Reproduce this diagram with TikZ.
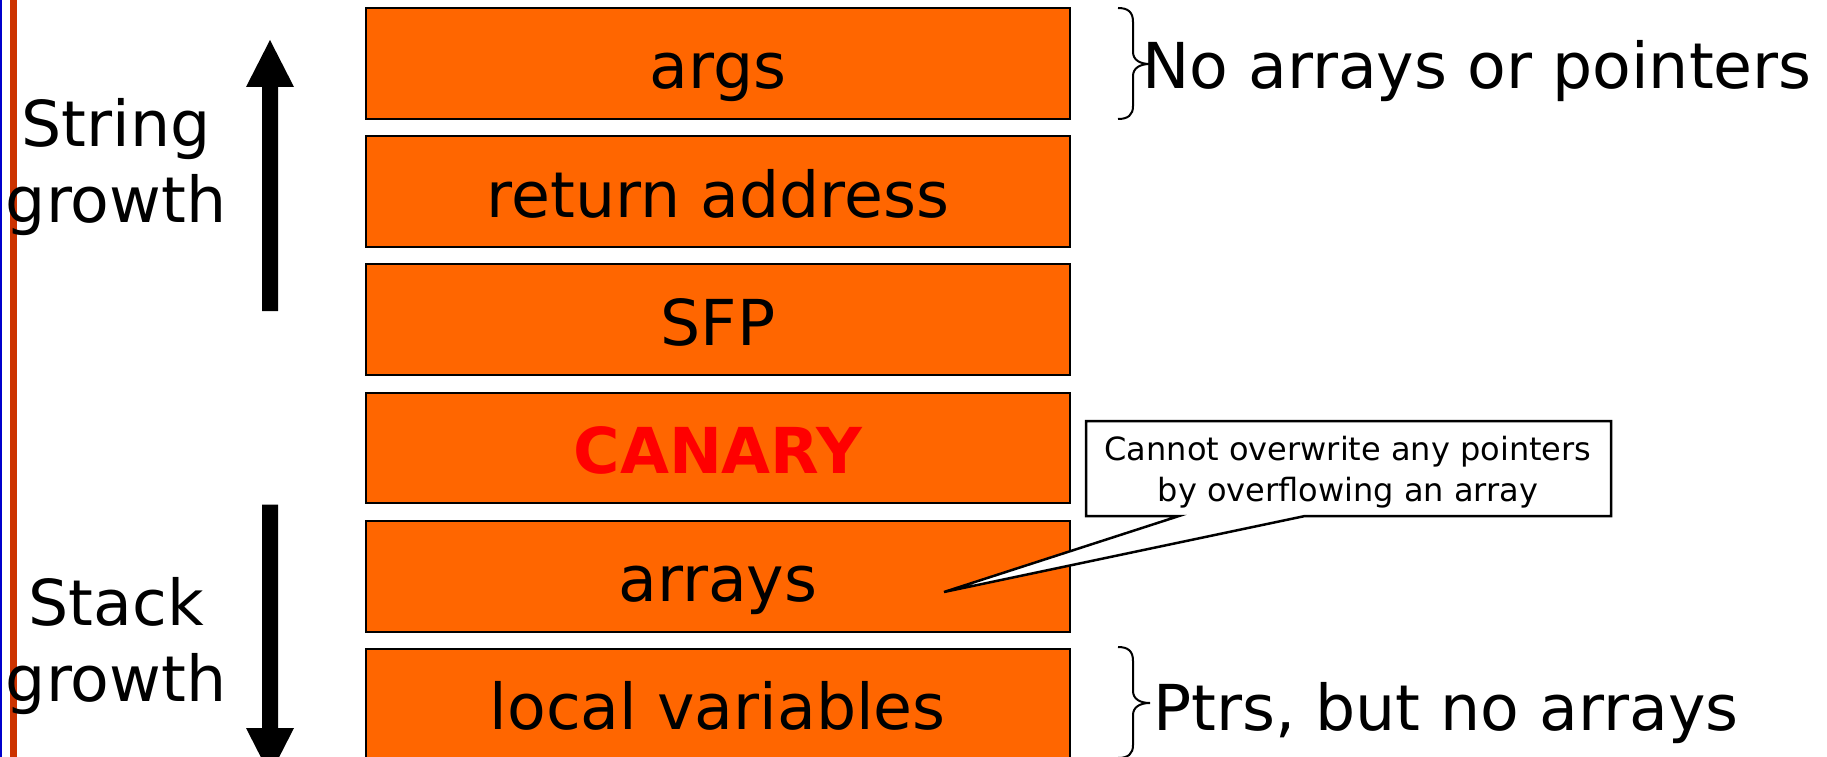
\documentclass[tikz,border=0pt]{standalone}
\usepackage{fontspec}
\setmainfont{DejaVu Sans}
\definecolor{boxorange}{HTML}{FF6600}
\definecolor{canaryred}{HTML}{FF0000}
\definecolor{edgered}{HTML}{CC3300}
\definecolor{edgeblue}{HTML}{0000CC}
\begin{document}
\begin{tikzpicture}[x=1pt,y=-1pt,
  stackbox/.style={draw=black, line width=2pt, fill=boxorange, minimum width=703.6pt,
    minimum height=110.7pt, inner sep=0pt, text height=51pt, text depth=0pt,
    font=\fontsize{63.3}{75}\selectfont},
  biglabel/.style={inner sep=0pt, font=\fontsize{63.3}{75}\selectfont},
  bracepath/.style={draw=black, line width=2pt},
  growtharrow/.style={fill=black},
  calloutshape/.style={draw=black, fill=white, line width=2.5pt, line join=miter},
  callouttext/.style={inner sep=0pt, align=center, font=\fontsize{32}{41}\selectfont}]
\useasboundingbox (0,0) rectangle (1827,757);
\clip (0,0) rectangle (1827,757);
% left edge lines
\fill[edgeblue] (0,0) rectangle (2,757);
\fill[edgered] (9.5,0) rectangle (16.5,757);
% stack boxes
\node[stackbox] (args)   at (717.8,63.5)  {args};
\node[stackbox] (ret)    at (717.8,191.7) {return address};
\node[stackbox] (sfp)    at (717.8,319.8) {SFP};
\node[stackbox, font=\fontsize{63.3}{75}\selectfont\bfseries, text=canaryred] (canary) at (717.8,448) {CANARY};
\node[stackbox] (arrays) at (717.8,576.2) {arrays};
\node[stackbox] (locals) at (717.8,704.3) {local variables};
% growth labels
\node[biglabel, anchor=base] (str1) at (116,146.7) {String};
\node[biglabel, anchor=base] (str2) at (116,222)   {growth};
\node[biglabel, anchor=base] (stk1) at (116,625)   {Stack};
\node[biglabel, anchor=base] (stk2) at (116,701.5) {growth};
% growth arrows
\fill[growtharrow] (262,311) -- (262,87) -- (246,87) -- (270,40) -- (294,87) -- (278,87) -- (278,311) -- cycle;
\fill[growtharrow] (262,504.5) -- (262,728) -- (246,728) -- (270,775) -- (294,728) -- (278,728) -- (278,504.5) -- cycle;
% braces
\draw[bracepath] (1118,8) .. controls (1128,8) and (1133,12) .. (1133,22) -- (1133,52)
  .. controls (1133,60) and (1140,64) .. (1150,64)
  .. controls (1140,64) and (1133,68) .. (1133,76) -- (1133,106)
  .. controls (1133,115) and (1128,119) .. (1118,119);
\draw[bracepath] (1118,647) .. controls (1128,647) and (1133,651) .. (1133,661) -- (1133,691)
  .. controls (1133,699) and (1140,703) .. (1150,703)
  .. controls (1140,703) and (1133,707) .. (1133,715) -- (1133,745)
  .. controls (1133,754) and (1128,758) .. (1118,758);
\node[biglabel, anchor=base west] (noarr) at (1142,89) {No arrays or pointers};
\node[biglabel, anchor=base west] (ptrs) at (1153,730) {Ptrs, but no arrays};
% callout
\coordinate (cTL) at (1086,421);
\coordinate (cTR) at (1611,421);
\coordinate (cBR) at (1611,516);
\coordinate (cB2) at (1305,516);
\coordinate (cTip) at (944,592);
\coordinate (cB1) at (1179,516);
\coordinate (cBL) at (1086,516);
\draw[calloutshape] (cTL) -- (cTR) -- (cBR) -- (cB2) -- (cTip) -- (cB1) -- (cBL) -- cycle;
\node[callouttext] (note) at (1348,472.3) {Cannot overwrite any pointers\\by overflowing an array};
\end{tikzpicture}
\end{document}
